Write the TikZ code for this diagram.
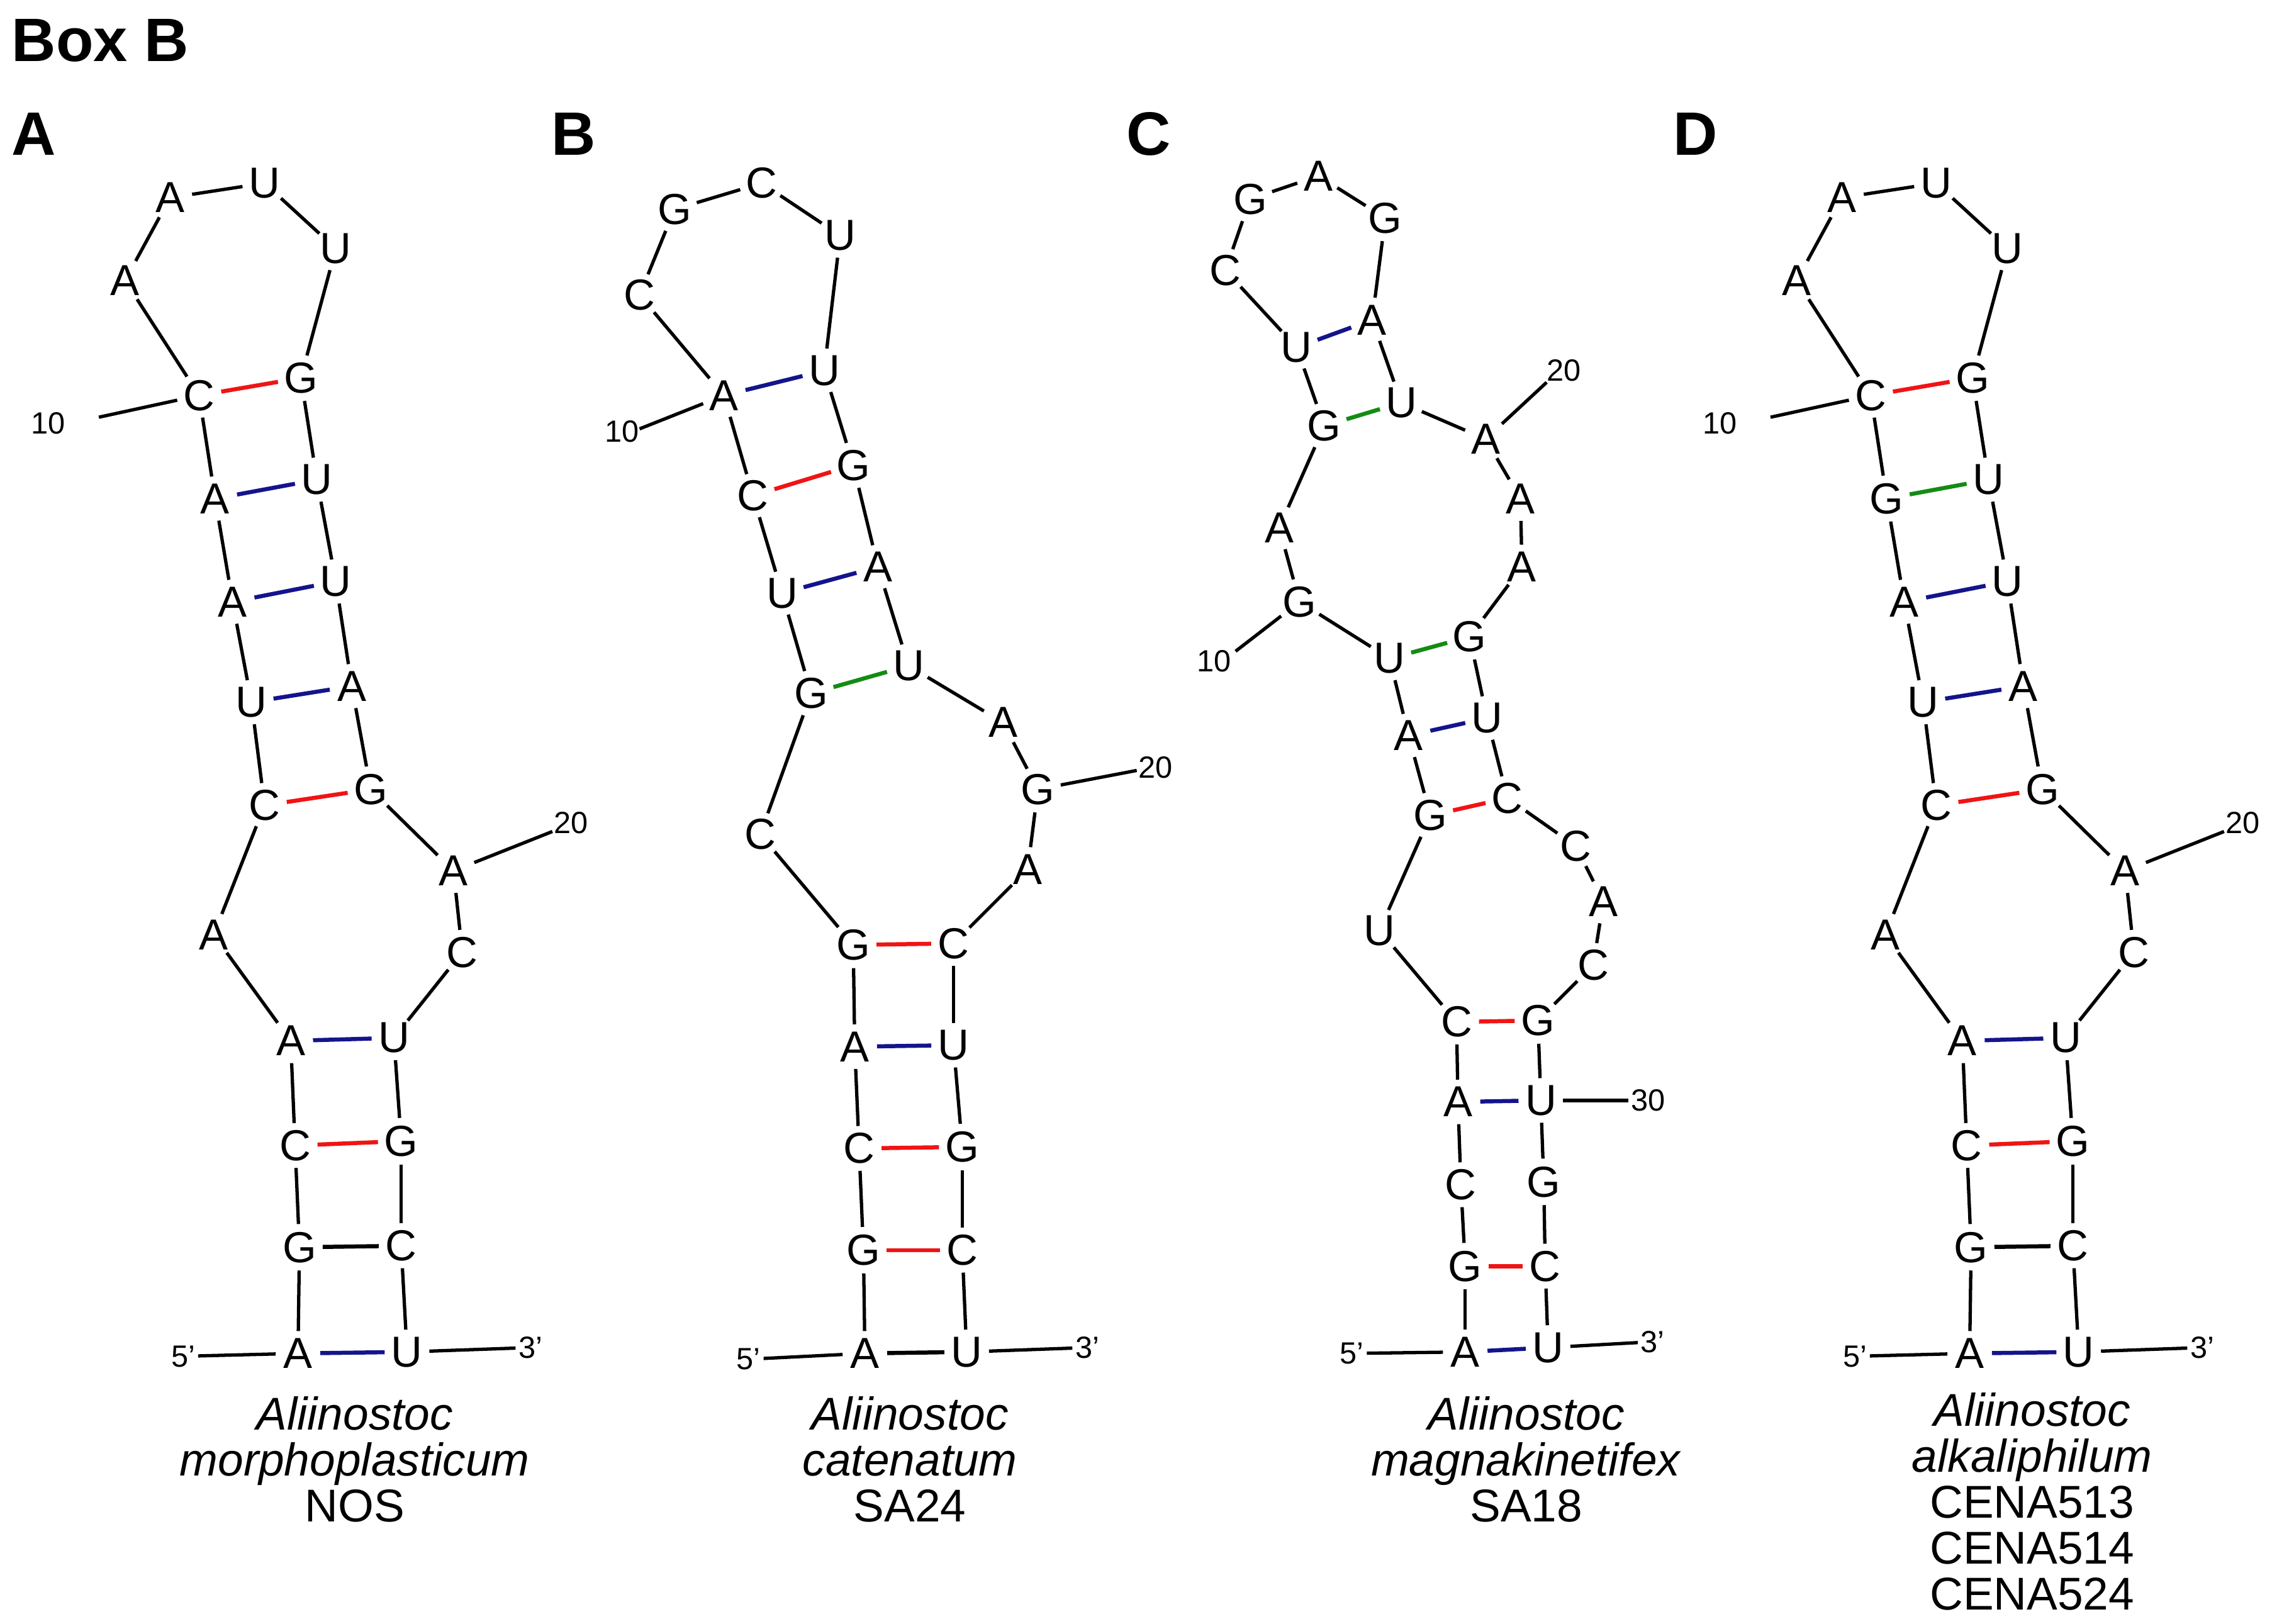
\documentclass[tikz,border=0pt]{standalone}
\usepackage{fontspec}
\setmainfont{Liberation Sans}
\definecolor{pr}{RGB}{240,20,20}
\definecolor{pb}{RGB}{20,20,140}
\definecolor{pg}{RGB}{20,140,20}
\newcommand\ntf{\fontsize{17}{20}\selectfont}
\newcommand\smf{\fontsize{12}{14}\selectfont}
\newcommand\spf{\fontsize{18}{18}\selectfont}
\begin{document}
\begin{tikzpicture}[x=0.02cm,y=-0.02cm,
  nt/.style={circle,inner sep=0pt,minimum size=0.6cm,font=\ntf},
  bb/.style={line width=1.3pt},
  red/.style={line width=1.6pt,pr},blu/.style={line width=1.6pt,pb},grn/.style={line width=1.6pt,pg},blk/.style={line width=1.6pt,black},
  lab/.style={font=\smf,inner sep=1pt},
  sp/.style={font=\spf,align=center,inner sep=0pt},
  pl/.style={font=\fontsize{24}{28}\selectfont\bfseries,anchor=west}]
\path[use as bounding box] (0,0) rectangle (1563,1117);
\node[pl] at (2,28) {Box B};
\node[pl] at (2,92) {A};
\node[pl] at (373,92) {B};
\node[pl] at (769,92) {C};
\node[pl] at (1145,92) {D};
% Panel A
\foreach \x/\y/\l [count=\i] in {205/931/A,206/858/G,203/788/C,200/716/A,147/643/A,182/554/C,173/483/U,160/414/A,148/343/A,137/272/C,86/193/A,117/136/A,182/126/U,231/171/U,207/260/G,218/330/U,231/400/U,242/472/A,255/543/G,312/599/A,318/655/C,271/714/U,276/785/G,276/857/C,280/930/U}
  {\node[nt] (a\i) at (\x,\y) {\l};}
\foreach \i [evaluate=\i as \j using int(\i+1)] in {1,...,24} \draw[bb] (a\i)--(a\j);
\draw[blu] (a1)--(a25); \draw[blk] (a2)--(a24); \draw[red] (a3)--(a23); \draw[blu] (a4)--(a22);
\draw[red] (a6)--(a19); \draw[blu] (a7)--(a18); \draw[blu] (a8)--(a17); \draw[blu] (a9)--(a16); \draw[red] (a10)--(a15);
\node[lab] (a5p) at (126,933) {5'}; \draw[bb] (a5p)--(a1);
\node[lab] (a3p) at (365,927) {3'}; \draw[bb] (a25)--(a3p);
\node[lab] at (33,291) {10}; \draw[bb] (68,287)--(a10);
\node[lab] at (393,566) {20}; \draw[bb] (a20)--(380,572);
\node[sp] at (244,1004) {\textit{Aliinostoc}\\\textit{morphoplasticum}\\NOS};
% Panel D
\begin{scope}[shift={(1150,0)}]
\foreach \x/\y/\l [count=\i] in {205/931/A,206/858/G,203/788/C,200/716/A,147/643/A,182/554/C,173/483/U,160/414/A,148/343/G,137/272/C,86/193/A,117/136/A,182/126/U,231/171/U,207/260/G,218/330/U,231/400/U,242/472/A,255/543/G,312/599/A,318/655/C,271/714/U,276/785/G,276/857/C,280/930/U}
  {\node[nt] (d\i) at (\x,\y) {\l};}
\foreach \i [evaluate=\i as \j using int(\i+1)] in {1,...,24} \draw[bb] (d\i)--(d\j);
\draw[blu] (d1)--(d25); \draw[blk] (d2)--(d24); \draw[red] (d3)--(d23); \draw[blu] (d4)--(d22);
\draw[red] (d6)--(d19); \draw[blu] (d7)--(d18); \draw[blu] (d8)--(d17); \draw[grn] (d9)--(d16); \draw[red] (d10)--(d15);
\node[lab] (d5p) at (126,933) {5'}; \draw[bb] (d5p)--(d1);
\node[lab] (d3p) at (365,927) {3'}; \draw[bb] (d25)--(d3p);
\node[lab] at (33,291) {10}; \draw[bb] (68,287)--(d10);
\node[lab] at (393,566) {20}; \draw[bb] (d20)--(380,572);
\node[sp] at (248,1033) {\textit{Aliinostoc}\\\textit{alkaliphilum}\\CENA513\\CENA514\\CENA524};
\end{scope}
% Panel B
\foreach \x/\y/\l [count=\i] in {595/931/A,594/860/G,591/790/C,588/720/A,587/650/G,523/574/C,558/477/G,538/408/U,518/341/C,498/272/A,440/203/C,464/144/G,524/126/C,578/162/U,567/255/U,587/320/G,604/390/A,625/458/U,690/497/A,714/543/G,707/598/A,656/649/C,656/719/U,662/789/G,662/860/C,665/930/U}
  {\node[nt] (b\i) at (\x,\y) {\l};}
\foreach \i [evaluate=\i as \j using int(\i+1)] in {1,...,25} \draw[bb] (b\i)--(b\j);
\draw[blk] (b1)--(b26); \draw[red] (b2)--(b25); \draw[red] (b3)--(b24); \draw[blu] (b4)--(b23); \draw[red] (b5)--(b22);
\draw[grn] (b7)--(b18); \draw[blu] (b8)--(b17); \draw[red] (b9)--(b16); \draw[blu] (b10)--(b15);
\node[lab] (b5p) at (515,935) {5'}; \draw[bb] (b5p)--(b1);
\node[lab] (b3p) at (748,927) {3'}; \draw[bb] (b26)--(b3p);
\node[lab] at (428,297) {10}; \draw[bb] (440,295)--(b10);
\node[lab] at (795,528) {20}; \draw[bb] (b20)--(782,530);
\node[sp] at (626,1004) {\textit{Aliinostoc}\\\textit{catenatum}\\SA24};
% Panel C
\foreach \x/\y/\l [count=\i] in {1008/930/A,1008/871/G,1005/815/C,1003/758/A,1002/703/C,949/640/U,984/561/G,969/506/A,956/453/U,894/414/G,880/363/A,911/293/G,892/239/U,843/186/C,860/137/G,907/121/A,953/150/G,944/220/A,964/277/U,1022/302/A,1046/343/A,1047/390/A,1011/438/G,1023/494/U,1037/549/C,1084/582/C,1103/620/A,1096/664/C,1058/702/G,1060/757/U,1062/813/G,1063/871/C,1065/927/U}
  {\node[nt] (c\i) at (\x,\y) {\l};}
\foreach \i [evaluate=\i as \j using int(\i+1)] in {1,...,32} \draw[bb] (c\i)--(c\j);
\draw[blu] (c1)--(c33); \draw[red] (c2)--(c32); \draw[blu] (c4)--(c30); \draw[red] (c5)--(c29);
\draw[red] (c7)--(c25); \draw[blu] (c8)--(c24); \draw[grn] (c9)--(c23); \draw[grn] (c12)--(c19); \draw[blu] (c13)--(c18);
\node[lab] (c5p) at (930,931) {5'}; \draw[bb] (c5p)--(c1);
\node[lab] (c3p) at (1137,923) {3'}; \draw[bb] (c33)--(c3p);
\node[lab] at (835,455) {10}; \draw[bb] (c10)--(850,448);
\node[lab] at (1076,255) {20}; \draw[bb] (c20)--(1064,263);
\node[lab] at (1134,757) {30}; \draw[bb] (c30)--(1120,757);
\node[sp] at (1050,1004) {\textit{Aliinostoc}\\\textit{magnakinetifex}\\SA18};
\end{tikzpicture}
\end{document}
